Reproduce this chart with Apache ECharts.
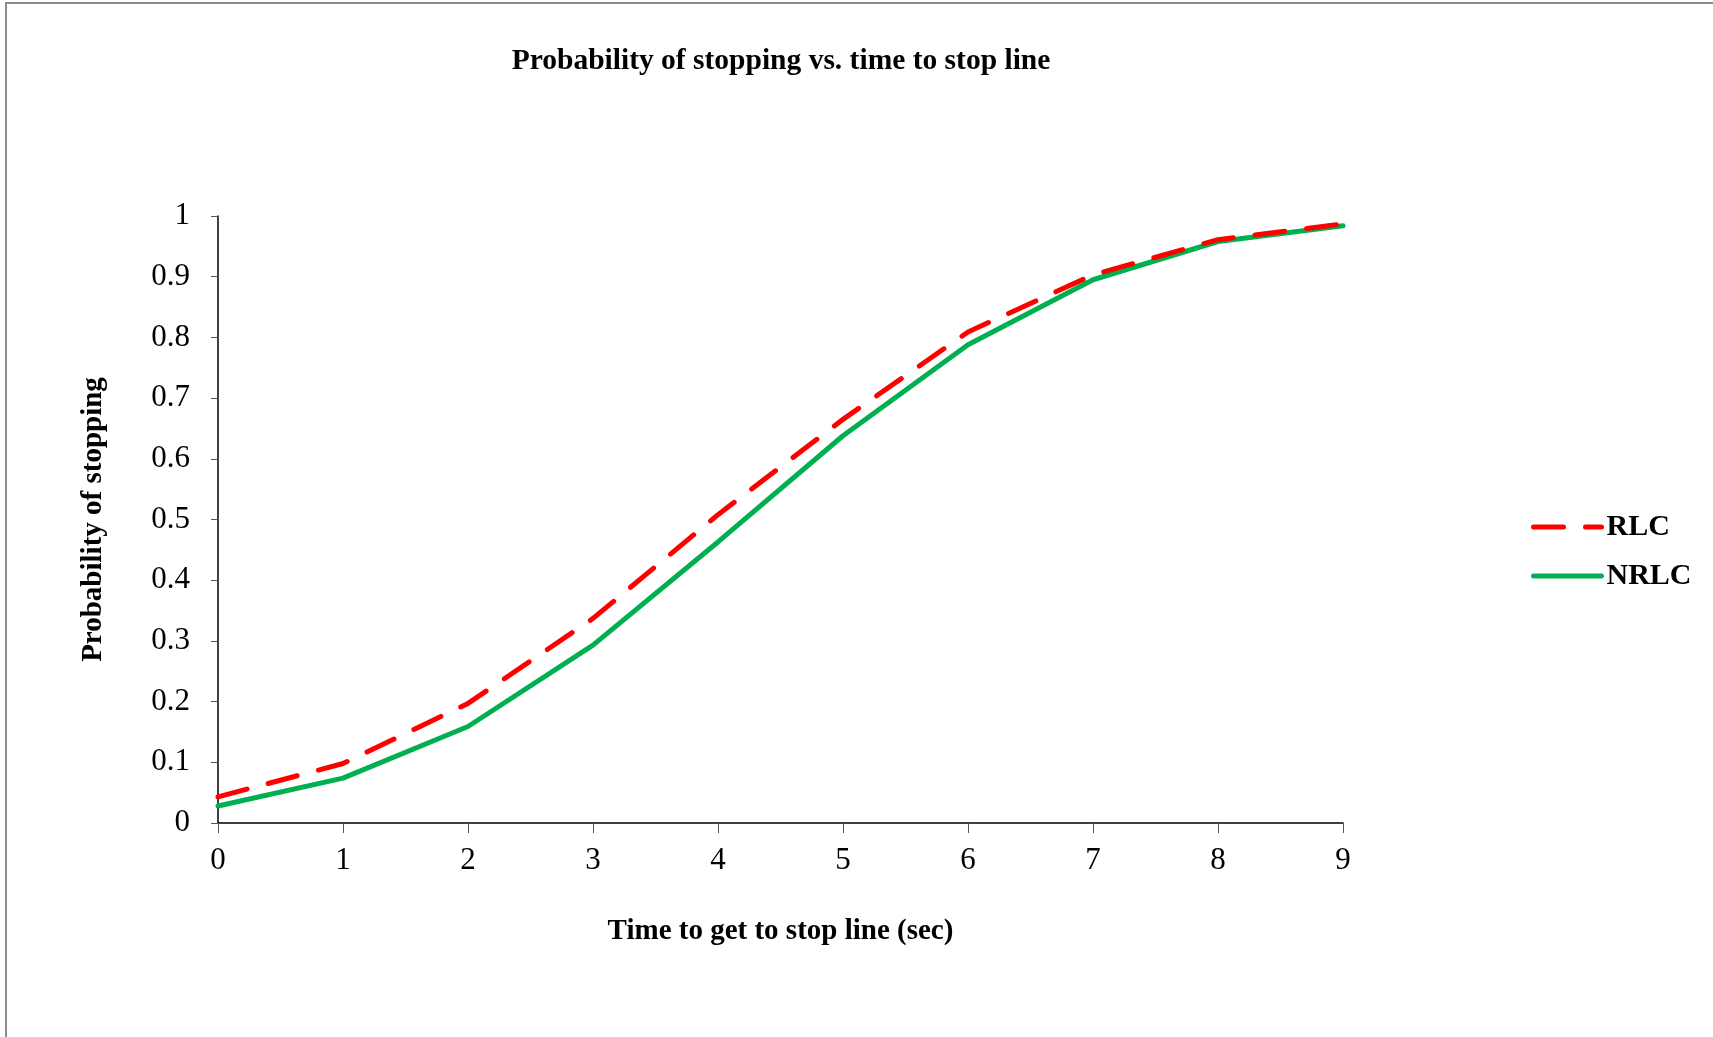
<!DOCTYPE html>
<html>
<head>
<meta charset="utf-8">
<script src="https://cdn.jsdelivr.net/npm/echarts@6/dist/echarts.min.js"></script>
<style>
  html, body { margin: 0; padding: 0; background: #fff; }
  #echart { width: 1713px; height: 1037px; }
</style>
</head>
<body>
<div id="echart"></div>
<script>
var times = [0, 1, 2, 3, 4, 5, 6, 7, 8, 9];
var rlc = [0.043, 0.098, 0.197, 0.337, 0.508, 0.665, 0.809, 0.903, 0.961, 0.987];
var nrlc = [0.028, 0.074, 0.159, 0.293, 0.463, 0.638, 0.788, 0.895, 0.958, 0.984];

var serif = "'Liberation Serif', 'Times New Roman', serif";

function pairs(vals) {
    return times.map(function (t, i) { return [t, vals[i]]; });
}

var myChart = echarts.init(document.getElementById('echart'));

option = {
    animation: false,
    backgroundColor: '#fff',
    title: {
        text: 'Probability of stopping vs. time to stop line',
        left: 776,
        top: 41,
        textAlign: 'center',
        textStyle: {
            fontFamily: serif,
            fontSize: 29.5,
            fontWeight: 'bold',
            color: '#000'
        }
    },
    graphic: [{
        type: 'rect',
        shape: { x: 6, y: 3, width: 1800, height: 1100 },
        style: { fill: 'none', stroke: '#8c8c8c', lineWidth: 2 }
    }],
    legend: {
        orient: 'vertical',
        left: 1526,
        top: 507,
        itemWidth: 68,
        itemHeight: 14,
        itemGap: 19,
        itemStyle: { opacity: 0 },
        lineStyle: { width: 5, cap: 'round' },
        textStyle: {
            fontFamily: serif,
            fontSize: 30,
            fontWeight: 'bold',
            color: '#000'
        },
        data: ['RLC', 'NRLC']
    },
    grid: {
        left: 218,
        right: 370,
        top: 216,
        bottom: 214
    },
    xAxis: {
        type: 'value',
        min: 0,
        max: 9,
        interval: 1,
        name: 'Time to get to stop line (sec)',
        nameLocation: 'middle',
        nameGap: 94,
        nameTextStyle: {
            fontFamily: serif,
            fontSize: 29,
            fontWeight: 'bold',
            color: '#000'
        },
        axisLine: { lineStyle: { color: '#000', width: 1.5 } },
        axisTick: { length: 10, lineStyle: { color: '#555' } },
        axisLabel: {
            margin: 22,
            fontFamily: serif,
            fontSize: 31,
            color: '#000'
        },
        splitLine: { show: false }
    },
    yAxis: {
        type: 'value',
        min: 0,
        max: 1,
        interval: 0.1,
        name: 'Probability of stopping',
        nameLocation: 'middle',
        nameGap: 110,
        nameTextStyle: {
            fontFamily: serif,
            fontSize: 29,
            fontWeight: 'bold',
            color: '#000'
        },
        axisLine: { show: true, lineStyle: { color: '#000', width: 1.5 } },
        axisTick: { show: true, length: 7, lineStyle: { color: '#555' } },
        axisLabel: {
            margin: 28,
            fontFamily: serif,
            fontSize: 31,
            color: '#000',
            formatter: function (v) { return String(Math.round(v * 10) / 10); }
        },
        splitLine: { show: false }
    },
    series: [
        {
            name: 'RLC',
            type: 'line',
            symbol: 'none',
            data: pairs(rlc),
            z: 3,
            lineStyle: {
                color: '#ff0000',
                width: 5,
                type: [30, 22],
                cap: 'round'
            },
            itemStyle: { color: '#ff0000' }
        },
        {
            name: 'NRLC',
            type: 'line',
            symbol: 'none',
            data: pairs(nrlc),
            z: 2,
            lineStyle: {
                color: '#00b050',
                width: 5,
                cap: 'round'
            },
            itemStyle: { color: '#00b050' }
        }
    ]
};

myChart.setOption(option);
</script>
</body>
</html>
